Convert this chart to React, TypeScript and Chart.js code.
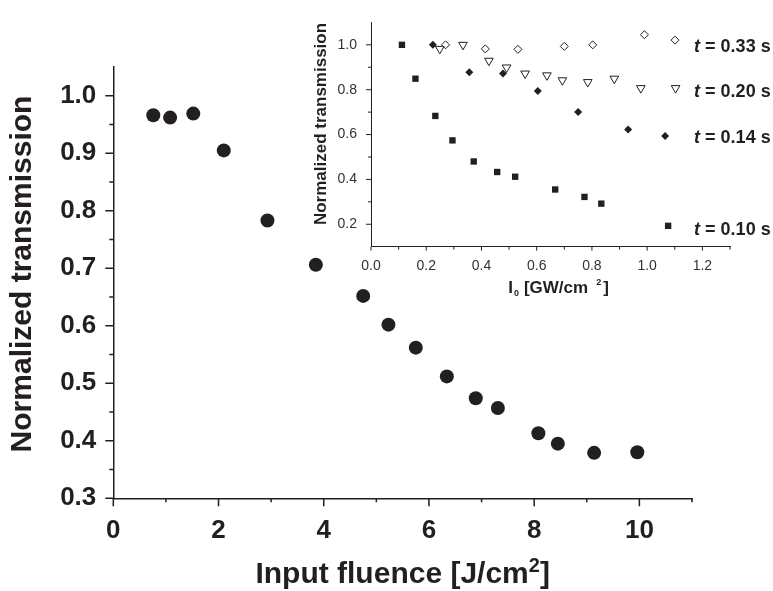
import React, { useEffect, useRef } from 'react';
import { Chart, registerables } from 'chart.js';

Chart.register(...registerables);

const INK = '#231f20';
const FONT = '"Liberation Sans", Arial, Helvetica, sans-serif';

// ---- main chart data ----
const fluence = [0.76, 1.08, 1.52, 2.10, 2.93, 3.85, 4.75, 5.23, 5.75, 6.34, 6.89, 7.31, 8.08, 8.45, 9.14, 9.96];
const transmission = [0.966, 0.962, 0.969, 0.905, 0.783, 0.706, 0.652, 0.602, 0.562, 0.512, 0.474, 0.457, 0.413, 0.395, 0.379, 0.380];

const mainXTicks = [0, 2, 4, 6, 8, 10];
const mainXMinor = [1, 3, 5, 7, 9, 11];
const mainYTicks = [0.3, 0.4, 0.5, 0.6, 0.7, 0.8, 0.9, 1.0];
const mainYMinor = [0.35, 0.45, 0.55, 0.65, 0.75, 0.85, 0.95];

// ---- inset data ----
const t010X = [0.112, 0.161, 0.233, 0.295, 0.372, 0.457, 0.522, 0.667, 0.773, 0.834, 1.076];
const t010Y = [1.0, 0.849, 0.683, 0.574, 0.480, 0.433, 0.412, 0.355, 0.322, 0.292, 0.193];
const t014X = [0.224, 0.356, 0.478, 0.604, 0.750, 0.931, 1.065];
const t014Y = [1.0, 0.878, 0.872, 0.794, 0.700, 0.622, 0.593];
const t020X = [0.249, 0.333, 0.427, 0.491, 0.558, 0.637, 0.693, 0.785, 0.881, 0.977, 1.103];
const t020Y = [0.982, 1.0, 0.929, 0.899, 0.872, 0.864, 0.842, 0.834, 0.849, 0.807, 0.807];
const t033X = [0.270, 0.414, 0.532, 0.700, 0.803, 0.990, 1.101];
const t033Y = [1.0, 0.982, 0.980, 0.993, 1.0, 1.045, 1.021];

const insetXTicks = [0, 0.2, 0.4, 0.6, 0.8, 1.0, 1.2];
const insetXMinor = [0.1, 0.3, 0.5, 0.7, 0.9, 1.1, 1.3];
const insetYTicks = [0.2, 0.4, 0.6, 0.8, 1.0];
const insetYMinor = [0.3, 0.5, 0.7, 0.9];

const insetLabels = ['0.33', '0.20', '0.14', '0.10'];
const insetLabelY = [0.99, 0.79, 0.585, 0.175];
const insetLabelX = 1.17;

const pts = (xs: number[], ys: number[]) => xs.map((x, i) => ({ x, y: ys[i] }));

type TickCfg = { xMajor: number[]; xMinor: number[]; yMajor: number[]; yMinor: number[]; majorLen: number; minorLen: number; xMajorLen: number; xMinorLen: number; width: number };

const tickPlugin = (cfg: TickCfg) => ({
  id: 'axisTicks',
  afterDraw(chart: any) {
    const { ctx, chartArea } = chart;
    const xs = chart.scales.x;
    const ys = chart.scales.y;
    ctx.save();
    ctx.strokeStyle = INK;
    ctx.lineWidth = cfg.width;
    ctx.beginPath();
    const xt = (vals: number[], len: number) => vals.forEach((v) => {
      const p = xs.getPixelForValue(v);
      ctx.moveTo(p, chartArea.bottom);
      ctx.lineTo(p, chartArea.bottom + len);
    });
    const yt = (vals: number[], len: number) => vals.forEach((v) => {
      const p = ys.getPixelForValue(v);
      ctx.moveTo(chartArea.left, p);
      ctx.lineTo(chartArea.left - len, p);
    });
    xt(cfg.xMajor, cfg.xMajorLen);
    xt(cfg.xMinor, cfg.xMinorLen);
    yt(cfg.yMajor, cfg.majorLen);
    yt(cfg.yMinor, cfg.minorLen);
    ctx.stroke();
    ctx.restore();
  },
});

function drawParts(ctx: CanvasRenderingContext2D, parts: { t: string; font: string; dy: number; gap?: number }[], cx: number, baseY: number) {
  let total = 0;
  parts.forEach((p) => { ctx.font = p.font; total += ctx.measureText(p.t).width + (p.gap || 0); });
  let x = cx - total / 2;
  ctx.textBaseline = 'alphabetic';
  ctx.textAlign = 'left';
  parts.forEach((p) => {
    ctx.font = p.font;
    ctx.fillText(p.t, x, baseY + p.dy);
    x += ctx.measureText(p.t).width + (p.gap || 0);
  });
}

const mainTitles = {
  id: 'mainTitles',
  afterDraw(chart: any) {
    const { ctx, chartArea } = chart;
    ctx.save();
    ctx.fillStyle = INK;
    drawParts(ctx, [
      { t: 'Input fluence [J/cm', font: `bold 30px ${FONT}`, dy: 0 },
      { t: '2', font: `bold 20px ${FONT}`, dy: -11 },
      { t: ']', font: `bold 30px ${FONT}`, dy: 0 },
    ], (chartArea.left + chartArea.right) / 2, 583);
    ctx.translate(22.5, 274);
    ctx.rotate(-Math.PI / 2);
    ctx.font = `bold 30px ${FONT}`;
    ctx.textAlign = 'center';
    ctx.textBaseline = 'middle';
    ctx.fillText('Normalized transmission', 0, 0);
    ctx.restore();
  },
};

const insetTitles = {
  id: 'insetTitles',
  afterDraw(chart: any) {
    const { ctx, chartArea, scales } = chart;
    ctx.save();
    ctx.fillStyle = INK;
    drawParts(ctx, [
      { t: 'I', font: `bold 17px ${FONT}`, dy: 0, gap: 1 },
      { t: '0', font: `bold 9px ${FONT}`, dy: 3, gap: 5 },
      { t: '[GW/cm', font: `bold 17px ${FONT}`, dy: 0, gap: 8 },
      { t: '2', font: `bold 9px ${FONT}`, dy: -8, gap: 2 },
      { t: ']', font: `bold 17px ${FONT}`, dy: 0 },
    ], (chartArea.left + chartArea.right) / 2 + 8, 293);
    ctx.save();
    ctx.translate(21, 124);
    ctx.rotate(-Math.PI / 2);
    ctx.font = `bold 17px ${FONT}`;
    ctx.textAlign = 'center';
    ctx.textBaseline = 'middle';
    ctx.fillText('Normalized transmission', 0, 0);
    ctx.restore();
    // series labels
    insetLabels.forEach((lab, i) => {
      const x = scales.x.getPixelForValue(insetLabelX);
      const y = scales.y.getPixelForValue(insetLabelY[i]);
      ctx.textBaseline = 'middle';
      ctx.textAlign = 'left';
      ctx.font = `italic bold 18px ${FONT}`;
      ctx.fillText('t', x, y);
      const w = ctx.measureText('t').width;
      ctx.font = `bold 18px ${FONT}`;
      ctx.fillText(' = ' + lab + ' s', x + w, y);
    });
    ctx.restore();
  },
};

export default function App() {
  const mainRef = useRef<HTMLCanvasElement>(null);
  const insetRef = useRef<HTMLCanvasElement>(null);

  useEffect(() => {
    const main = new Chart(mainRef.current as HTMLCanvasElement, {
      type: 'scatter',
      data: {
        datasets: [{
          data: pts(fluence, transmission),
          pointRadius: 7,
          pointHoverRadius: 7,
          backgroundColor: INK,
          borderColor: INK,
          borderWidth: 0,
          clip: false,
        }],
      },
      options: {
        animation: false,
        responsive: false,
        devicePixelRatio: 1,
        events: [],
        layout: { padding: { top: 67, right: 81, left: 0, bottom: 0 } },
        plugins: { legend: { display: false }, tooltip: { enabled: false }, title: { display: false } },
        scales: {
          x: {
            type: 'linear', min: 0, max: 11,
            afterFit: (s: any) => { s.height = 92.7; },
            afterBuildTicks: (s: any) => { s.ticks = mainXTicks.map((v) => ({ value: v })); },
            grid: { display: false, drawTicks: false },
            border: { display: true, color: INK, width: 1.5 },
            ticks: { padding: 17, color: INK, font: { family: FONT, size: 26, weight: 'bold' }, callback: (v: any) => String(v), maxRotation: 0, autoSkip: false },
          },
          y: {
            type: 'linear', min: 0.3, max: 1.05,
            afterFit: (s: any) => { s.width = 113.3; },
            afterBuildTicks: (s: any) => { s.ticks = mainYTicks.map((v) => ({ value: v })); },
            grid: { display: false, drawTicks: false },
            border: { display: true, color: INK, width: 1.5 },
            ticks: { padding: 17, color: INK, font: { family: FONT, size: 26, weight: 'bold' }, callback: (v: any) => Number(v).toFixed(1), autoSkip: false },
          },
        },
      },
      plugins: [tickPlugin({ xMajor: mainXTicks, xMinor: mainXMinor, yMajor: mainYTicks, yMinor: mainYMinor, majorLen: 8, minorLen: 4, xMajorLen: 8, xMinorLen: 4, width: 1.5 }), mainTitles],
    } as any);

    const common = { clip: false, borderColor: INK, borderWidth: 1 };
    const inset = new Chart(insetRef.current as HTMLCanvasElement, {
      type: 'scatter',
      data: {
        datasets: [
          { ...common, data: pts(t010X, t010Y), pointStyle: 'rect', pointRadius: 4.5, backgroundColor: INK, borderWidth: 0 },
          { ...common, data: pts(t014X, t014Y), pointStyle: 'rectRot', pointRadius: 4, backgroundColor: INK, borderWidth: 0 },
          { ...common, data: pts(t020X, t020Y), pointStyle: 'triangle', pointRotation: 180, pointRadius: 5, backgroundColor: '#fff' },
          { ...common, data: pts(t033X, t033Y), pointStyle: 'rectRot', pointRadius: 4, backgroundColor: '#fff' },
        ],
      },
      options: {
        animation: false,
        responsive: false,
        devicePixelRatio: 1,
        events: [],
        layout: { padding: { top: 12.3, right: 43, left: 0, bottom: 0 } },
        plugins: { legend: { display: false }, tooltip: { enabled: false }, title: { display: false } },
        scales: {
          x: {
            type: 'linear', min: 0, max: 1.3,
            afterFit: (s: any) => { s.height = 63.3; },
            afterBuildTicks: (s: any) => { s.ticks = insetXTicks.map((v) => ({ value: v })); },
            grid: { display: false, drawTicks: false },
            border: { display: true, color: INK, width: 1 },
            ticks: { padding: 11, color: '#333', font: { family: FONT, size: 14 }, callback: (v: any) => Number(v).toFixed(1), maxRotation: 0, autoSkip: false },
          },
          y: {
            type: 'linear', min: 0.1, max: 1.1,
            afterFit: (s: any) => { s.width = 71; },
            afterBuildTicks: (s: any) => { s.ticks = insetYTicks.map((v) => ({ value: v })); },
            grid: { display: false, drawTicks: false },
            border: { display: true, color: INK, width: 1 },
            ticks: { padding: 14, color: '#333', font: { family: FONT, size: 14 }, callback: (v: any) => Number(v).toFixed(1), autoSkip: false },
          },
        },
      },
      plugins: [tickPlugin({ xMajor: insetXTicks, xMinor: insetXMinor, yMajor: insetYTicks, yMinor: insetYMinor, majorLen: 5, minorLen: 3, xMajorLen: 4, xMinorLen: 3, width: 1 }), insetTitles],
    } as any);

    return () => { main.destroy(); inset.destroy(); };
  }, []);

  return (
    <div style={{ position: 'fixed', left: 0, top: 0, width: 773, height: 591, background: '#fff' }}>
      <canvas ref={mainRef} width={773} height={591} style={{ position: 'absolute', left: 0, top: 0, width: 773, height: 591 }} />
      <canvas ref={insetRef} width={473} height={310} style={{ position: 'absolute', left: 300, top: 0, width: 473, height: 310 }} />
    </div>
  );
}
